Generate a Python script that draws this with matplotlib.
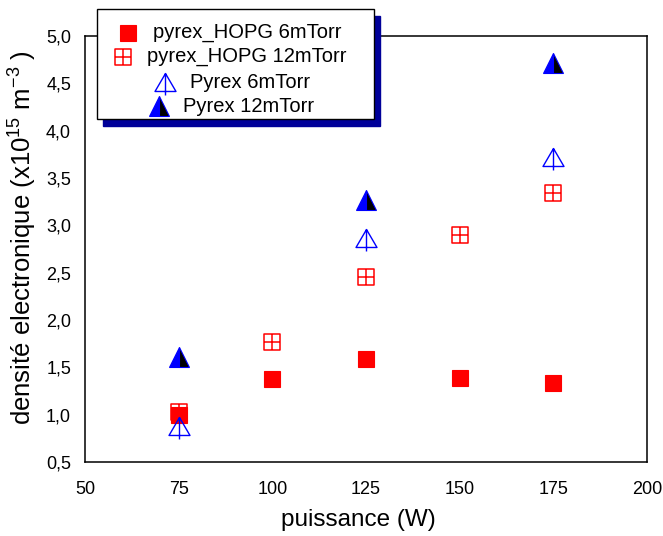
import matplotlib
matplotlib.use("Agg")
import matplotlib.pyplot as plt
from matplotlib.path import Path
from matplotlib.patches import Rectangle
from matplotlib.lines import Line2D

plt.rcParams['font.family'] = ['Liberation Sans', 'DejaVu Sans']
plt.rcParams['mathtext.fontset'] = 'custom'
plt.rcParams['mathtext.rm'] = 'Liberation Sans'
plt.rcParams['mathtext.it'] = 'Liberation Sans'

# donnees
puissance = [75, 100, 125, 150, 175]
hopg_6 = [1.00, 1.38, 1.59, 1.39, 1.33]
hopg_12 = [1.03, 1.77, 2.45, 2.90, 3.34]
puissance_pyrex = [75, 125, 175]
pyrex_6 = [0.88, 2.87, 3.72]
pyrex_12 = [1.61, 3.27, 4.71]

labels = ['pyrex_HOPG 6mTorr', 'pyrex_HOPG 12mTorr', 'Pyrex 6mTorr', 'Pyrex 12mTorr']
xticks = [50, 75, 100, 125, 150, 175, 200]
yticks = [0.5, 1.0, 1.5, 2.0, 2.5, 3.0, 3.5, 4.0, 4.5, 5.0]

# marqueurs
carre_croix = Path([(-1, -1), (1, -1), (1, 1), (-1, 1), (-1, -1),
                    (0, -1), (0, 1), (-1, 0), (1, 0)],
                   [Path.MOVETO, Path.LINETO, Path.LINETO, Path.LINETO, Path.CLOSEPOLY,
                    Path.MOVETO, Path.LINETO, Path.MOVETO, Path.LINETO])
tri_tige = Path([(0, 9), (-10.5, -9), (10.5, -9), (0, 9), (0, 9), (0, -13)],
                [Path.MOVETO, Path.LINETO, Path.LINETO, Path.CLOSEPOLY,
                 Path.MOVETO, Path.LINETO])

styles = [
    dict(marker='s', ms=11.5, mfc='#ff0000', mec='#ff0000', mew=0.8, zorder=4),
    dict(marker=carre_croix, ms=11.5, mfc='none', mec='#ff0000', mew=1.1, zorder=3),
    dict(marker=tri_tige, ms=18.7, mfc='none', mec='#0000ff', mew=1.0, zorder=5),
    dict(marker='^', ms=14.5, fillstyle='left', mfc='#0000ff', mfcalt='black',
         mec='#0000ff', mew=0.8, zorder=6),
]

fig = plt.figure(figsize=(6.63, 5.36), dpi=100)
ax = fig.add_axes([0.1282, 0.1381, 0.8477, 0.7948])

ax.plot(puissance, hopg_6, ls='none', **styles[0])
ax.plot(puissance, hopg_12, ls='none', **styles[1])
ax.plot(puissance_pyrex, pyrex_6, ls='none', **styles[2])
ax.plot(puissance_pyrex, pyrex_12, ls='none', **styles[3])

ax.set_xlim(50, 200)
ax.set_ylim(0.5, 5.0)
ax.set_xticks(xticks)
ax.set_yticks(yticks)
ax.set_yticklabels([f"{v:.1f}".replace('.', ',') for v in yticks])
ax.tick_params(length=0, labelsize=13, pad=10)
ax.tick_params(axis='x', pad=14)
for s in ax.spines.values():
    s.set_linewidth(1.1)

ax.set_xlabel('puissance (W)', fontsize=17.5)
ax.xaxis.set_label_coords(0.487, -0.110)
ax.set_ylabel('densité electronique (x10$^{15}$ m$^{-3}$ )', fontsize=18.5)
ax.yaxis.set_label_coords(-0.081, 0.526)

# legende dessinee a la main (ombre bleue, lignes centrees)
W, H = 663.0, 536.0
def fx(px):
    return px / W
def fy(py):
    return 1 - py / H

fig.add_artist(Rectangle((fx(103), fy(126)), fx(380) - fx(103), fy(16) - fy(126),
                         transform=fig.transFigure, facecolor='#000099',
                         edgecolor='#000099', zorder=10))
fig.add_artist(Rectangle((fx(97), fy(119)), fx(374) - fx(97), fy(9) - fy(119),
                         transform=fig.transFigure, facecolor='white',
                         edgecolor='black', lw=1.0, zorder=11))

rangs = [(128, 153, 33), (123, 147, 57), (165, 190, 82), (159, 183, 106)]
for (mx, tx, ty), lab, st in zip(rangs, labels, styles):
    st = dict(st)
    st['zorder'] = 12
    fig.add_artist(Line2D([fx(mx)], [fy(ty)], ls='none', transform=fig.transFigure, **st))
    fig.text(fx(tx), fy(ty), lab, fontsize=14.5, ha='left', va='center', zorder=13)

fig.savefig('out.png', dpi=100)
